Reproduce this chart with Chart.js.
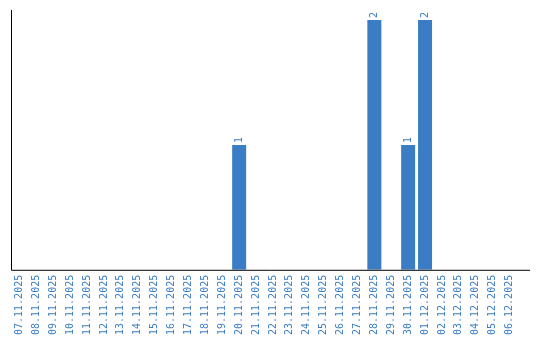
<!DOCTYPE html>
<html>
<head>
<meta charset="utf-8">
<script src="https://cdn.jsdelivr.net/npm/chart.js@4"></script>
<style>
  html, body { margin: 0; padding: 0; background: #fff; }
  #wrap { width: 540px; height: 340px; }
</style>
</head>
<body>
<div id="wrap"><canvas id="c"></canvas></div>
<script>
const days = [
  "07.11.2025", "08.11.2025", "09.11.2025", "10.11.2025", "11.11.2025",
  "12.11.2025", "13.11.2025", "14.11.2025", "15.11.2025", "16.11.2025",
  "17.11.2025", "18.11.2025", "19.11.2025", "20.11.2025", "21.11.2025",
  "22.11.2025", "23.11.2025", "24.11.2025", "25.11.2025", "26.11.2025",
  "27.11.2025", "28.11.2025", "29.11.2025", "30.11.2025", "01.12.2025",
  "02.12.2025", "03.12.2025", "04.12.2025", "05.12.2025", "06.12.2025"
];
const counts = [
  0, 0, 0, 0, 0, 0, 0, 0, 0, 0,
  0, 0, 0, 1, 0, 0, 0, 0, 0, 0,
  0, 2, 0, 1, 2, 0, 0, 0, 0, 0
];

const blue = "#3b7dc4";
const labelFont = "10px 'DejaVu Sans Mono', monospace";

// value labels above bars, turned on their side
const barLabels = {
  id: "barLabels",
  afterDatasetsDraw(chart) {
    const ctx = chart.ctx;
    const meta = chart.getDatasetMeta(0);
    ctx.save();
    ctx.fillStyle = blue;
    ctx.font = labelFont;
    meta.data.forEach((bar, i) => {
      if (!counts[i]) return;
      ctx.save();
      ctx.translate(bar.x, bar.y - 2);
      ctx.rotate(-Math.PI / 2);
      ctx.textAlign = "left";
      ctx.textBaseline = "middle";
      ctx.fillText(String(counts[i]), 0, 0);
      ctx.restore();
    });
    ctx.restore();
  }
};

// axis lines, the bottom one runs a bit past the last category
const axisLines = {
  id: "axisLines",
  afterDraw(chart) {
    const a = chart.chartArea;
    const ctx = chart.ctx;
    ctx.save();
    ctx.strokeStyle = "#000";
    ctx.lineWidth = 1;
    ctx.beginPath();
    ctx.moveTo(a.left + 0.5, a.top);
    ctx.lineTo(a.left + 0.5, a.bottom + 0.5);
    ctx.lineTo(530, a.bottom + 0.5);
    ctx.stroke();
    ctx.restore();
  }
};

new Chart(document.getElementById("c"), {
  type: "bar",
  data: {
    labels: days,
    datasets: [{
      data: counts.map(v => v || null),
      backgroundColor: blue,
      inflateAmount: 0,
      barThickness: 14
    }]
  },
  options: {
    responsive: true,
    maintainAspectRatio: false,
    animation: false,
    layout: { padding: { left: 11, top: 10, right: 22, bottom: 0 } },
    plugins: { legend: { display: false }, tooltip: { enabled: false } },
    scales: {
      x: {
        grid: { display: false, drawTicks: false },
        border: { display: false },
        ticks: {
          color: blue,
          font: { family: "'DejaVu Sans Mono', monospace", size: 10 },
          minRotation: 90,
          maxRotation: 90,
          autoSkip: false,
          padding: 5
        }
      },
      y: {
        min: 0,
        max: 2.08,
        grid: { display: false, drawTicks: false },
        border: { display: false },
        ticks: { display: false }
      }
    }
  },
  plugins: [barLabels, axisLines]
});
</script>
</body>
</html>
